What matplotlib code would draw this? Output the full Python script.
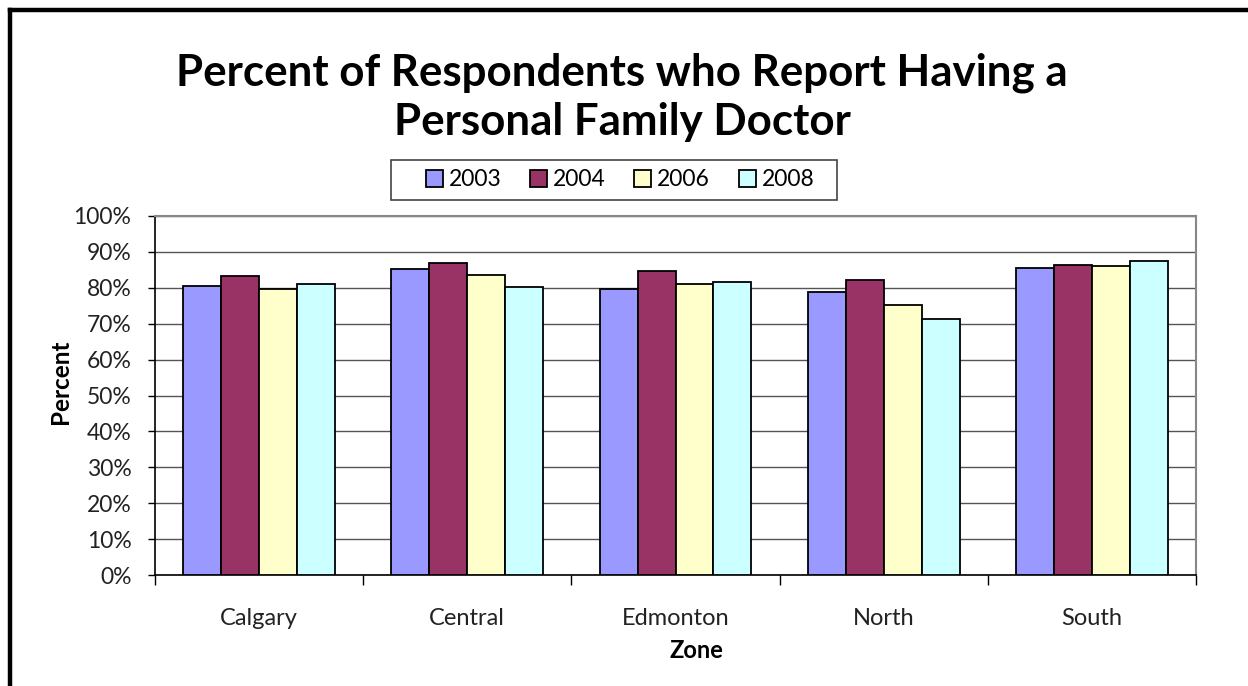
import matplotlib
matplotlib.use("Agg")
import matplotlib.pyplot as plt
from matplotlib.lines import Line2D
from matplotlib.patches import Patch, Rectangle
import numpy as np

zones = ["Calgary", "Central", "Edmonton", "North", "South"]
years = ["2003", "2004", "2006", "2008"]
v2003 = [80.4, 85.1, 79.6, 78.7, 85.4]
v2004 = [83.4, 86.9, 84.8, 82.2, 86.3]
v2006 = [79.6, 83.7, 81.1, 75.1, 86.2]
v2008 = [81.1, 80.1, 81.6, 71.2, 87.6]
yticks = [0, 10, 20, 30, 40, 50, 60, 70, 80, 90, 100]

series = [v2003, v2004, v2006, v2008]
colors = ["#9999FF", "#993366", "#FFFFCC", "#CCFFFF"]

W, H = 1248, 686
fig = plt.figure(figsize=(W / 100, H / 100), dpi=100)
fig.patch.set_facecolor("white")
font = "Lato"

def fx(px):
    return px / W

def fy(py):
    return 1 - py / H

# outer border (top and left only visible)
fig.add_artist(Line2D([fx(10), 1.0], [fy(10), fy(10)], color="black", lw=3.2,
                      transform=fig.transFigure, solid_capstyle="projecting"))
fig.add_artist(Line2D([fx(10), fx(10)], [fy(10), 0.0], color="black", lw=3.2,
                      transform=fig.transFigure, solid_capstyle="projecting"))

left, right, top, bottom = 155, 1196, 216, 575
ax = fig.add_axes([fx(left), fy(bottom), fx(right - left), (bottom - top) / H])

x = np.arange(len(zones))
bw = 0.1825
for i, (vals, c) in enumerate(zip(series, colors)):
    ax.bar(x + (i - 1.5) * bw, vals, width=bw, color=c, edgecolor="black",
           linewidth=1.3, zorder=3, label=years[i])

ax.set_xlim(-0.5, len(zones) - 0.5)
ax.set_ylim(0, 100)
ax.set_yticks(yticks)
ax.set_yticklabels([f"{t}%" for t in yticks], fontsize=16.5, family=font, color="#222222")
ax.yaxis.grid(True, color="#555555", linewidth=1.0, zorder=0)
ax.set_axisbelow(True)

ax.set_xticks(x)
ax.set_xticklabels(zones, fontsize=17, family=font, color="#222222")
ax.set_xticks(np.arange(-0.5, len(zones), 1.0), minor=True)
ax.tick_params(axis="x", which="major", length=0, pad=24)
ax.tick_params(axis="x", which="minor", length=7, width=1.0, direction="out", color="black")
ax.tick_params(axis="y", length=5, width=1.0, direction="out", color="black", pad=12)

for s in ["left", "bottom"]:
    ax.spines[s].set_color("black")
    ax.spines[s].set_linewidth(1.2)
for s in ["top", "right"]:
    ax.spines[s].set_color("#888888")
    ax.spines[s].set_linewidth(1.5)

fig.text(fx(622), fy(97), "Percent of Respondents who Report Having a\nPersonal Family Doctor",
         ha="center", va="center", fontsize=31.6, fontweight="bold", family=font,
         linespacing=1.28)

fig.text(fx(60), fy(382), "Percent", rotation=90, ha="center", va="center",
         fontsize=17.5, fontweight="bold", family=font)
fig.text(fx(696), fy(651), "Zone", ha="center", va="center",
         fontsize=17, fontweight="bold", family=font)

# legend frame drawn as a figure rectangle
fig.add_artist(Rectangle((fx(391), fy(200)), fx(837 - 391), (200 - 160) / H,
                         transform=fig.transFigure, facecolor="white",
                         edgecolor="#444444", linewidth=1.2, zorder=5))
handles = [Patch(facecolor=c, edgecolor="black", linewidth=1.3, label=y)
           for c, y in zip(colors, years)]
leg = fig.legend(handles=handles, loc="center", bbox_to_anchor=(fx(620), fy(180)),
                 ncol=4, frameon=False,
                 prop={"family": font, "size": 16.5},
                 handlelength=0.75, handleheight=0.75, handletextpad=0.25,
                 columnspacing=1.25, borderpad=0.2, borderaxespad=0)
leg.set_zorder(6)

fig.savefig("out.png", dpi=100, facecolor="white")
